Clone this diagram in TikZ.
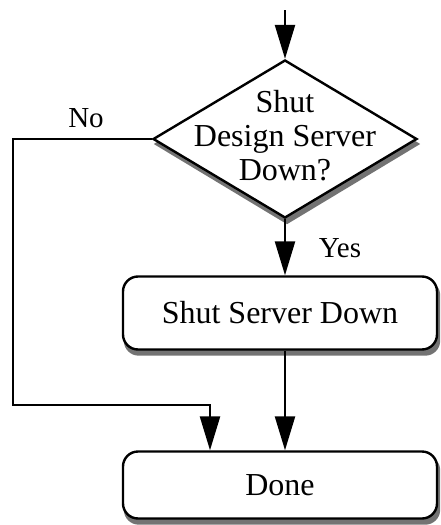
\documentclass[tikz,border=0pt]{standalone}
\usepackage{fontspec}
\setmainfont{Liberation Serif}
\usetikzlibrary{shapes.geometric,arrows.meta,backgrounds}

\begin{document}
  \begin{tikzpicture}[x=1pt,y=-1pt,line width=2.4pt,
      flow/.style={-{Triangle[length=34pt,width=20pt]}},
      greyshadow/.style={fill=black!55,draw=none},
      stepbox/.style={rectangle,rounded corners=15pt,draw,fill=white,minimum width=314pt,font=\fontsize{32}{36}\selectfont},
      decision/.style={diamond,draw,fill=white,inner sep=0pt,minimum width=264pt,minimum height=158pt},
      tag/.style={font=\fontsize{29}{32}\selectfont}]
    \useasboundingbox (0,0) rectangle (440,525);
    \coordinate (start) at (285,10);
    \node[decision] (dec) at (285,139) {};
    \node[align=center,font=\fontsize{32}{34}\selectfont] (ask) at ([yshift=3pt]dec) {Shut\\Design Server\\Down?};
    \node[stepbox,minimum height=73pt] (shut) at (280,313) {Shut Server Down};
    \node[stepbox,minimum height=67pt] (done) at (280,485) {Done};
    \node[tag] (no) at (86,118) {No};
    \node[tag] (yes) at (340,248) {Yes};
    \begin{scope}[on background layer,every path/.style={greyshadow},sh/.style={xshift=2pt,yshift=-5pt}]
      \fill ([sh]dec.north) -- ([sh]dec.east) -- ([sh]dec.south) -- ([sh]dec.west) -- cycle;
      \fill[rounded corners=15pt] ([sh]shut.south west) rectangle ([sh]shut.north east);
      \fill[rounded corners=15pt] ([sh]done.south west) rectangle ([sh]done.north east);
    \end{scope}
    \coordinate (nobend) at (13,139);
    \coordinate (nodrop) at (210,405);
    \draw[flow] (start) -- (dec.north);
    \draw[flow] (dec.south) -- (dec.south |- shut.north);
    \draw[flow] (dec.south |- shut.south) -- (dec.south |- done.north);
    \draw[flow] (dec.west) -- (nobend) |- (nodrop) -- (nodrop |- done.north);
  \end{tikzpicture}
\end{document}
